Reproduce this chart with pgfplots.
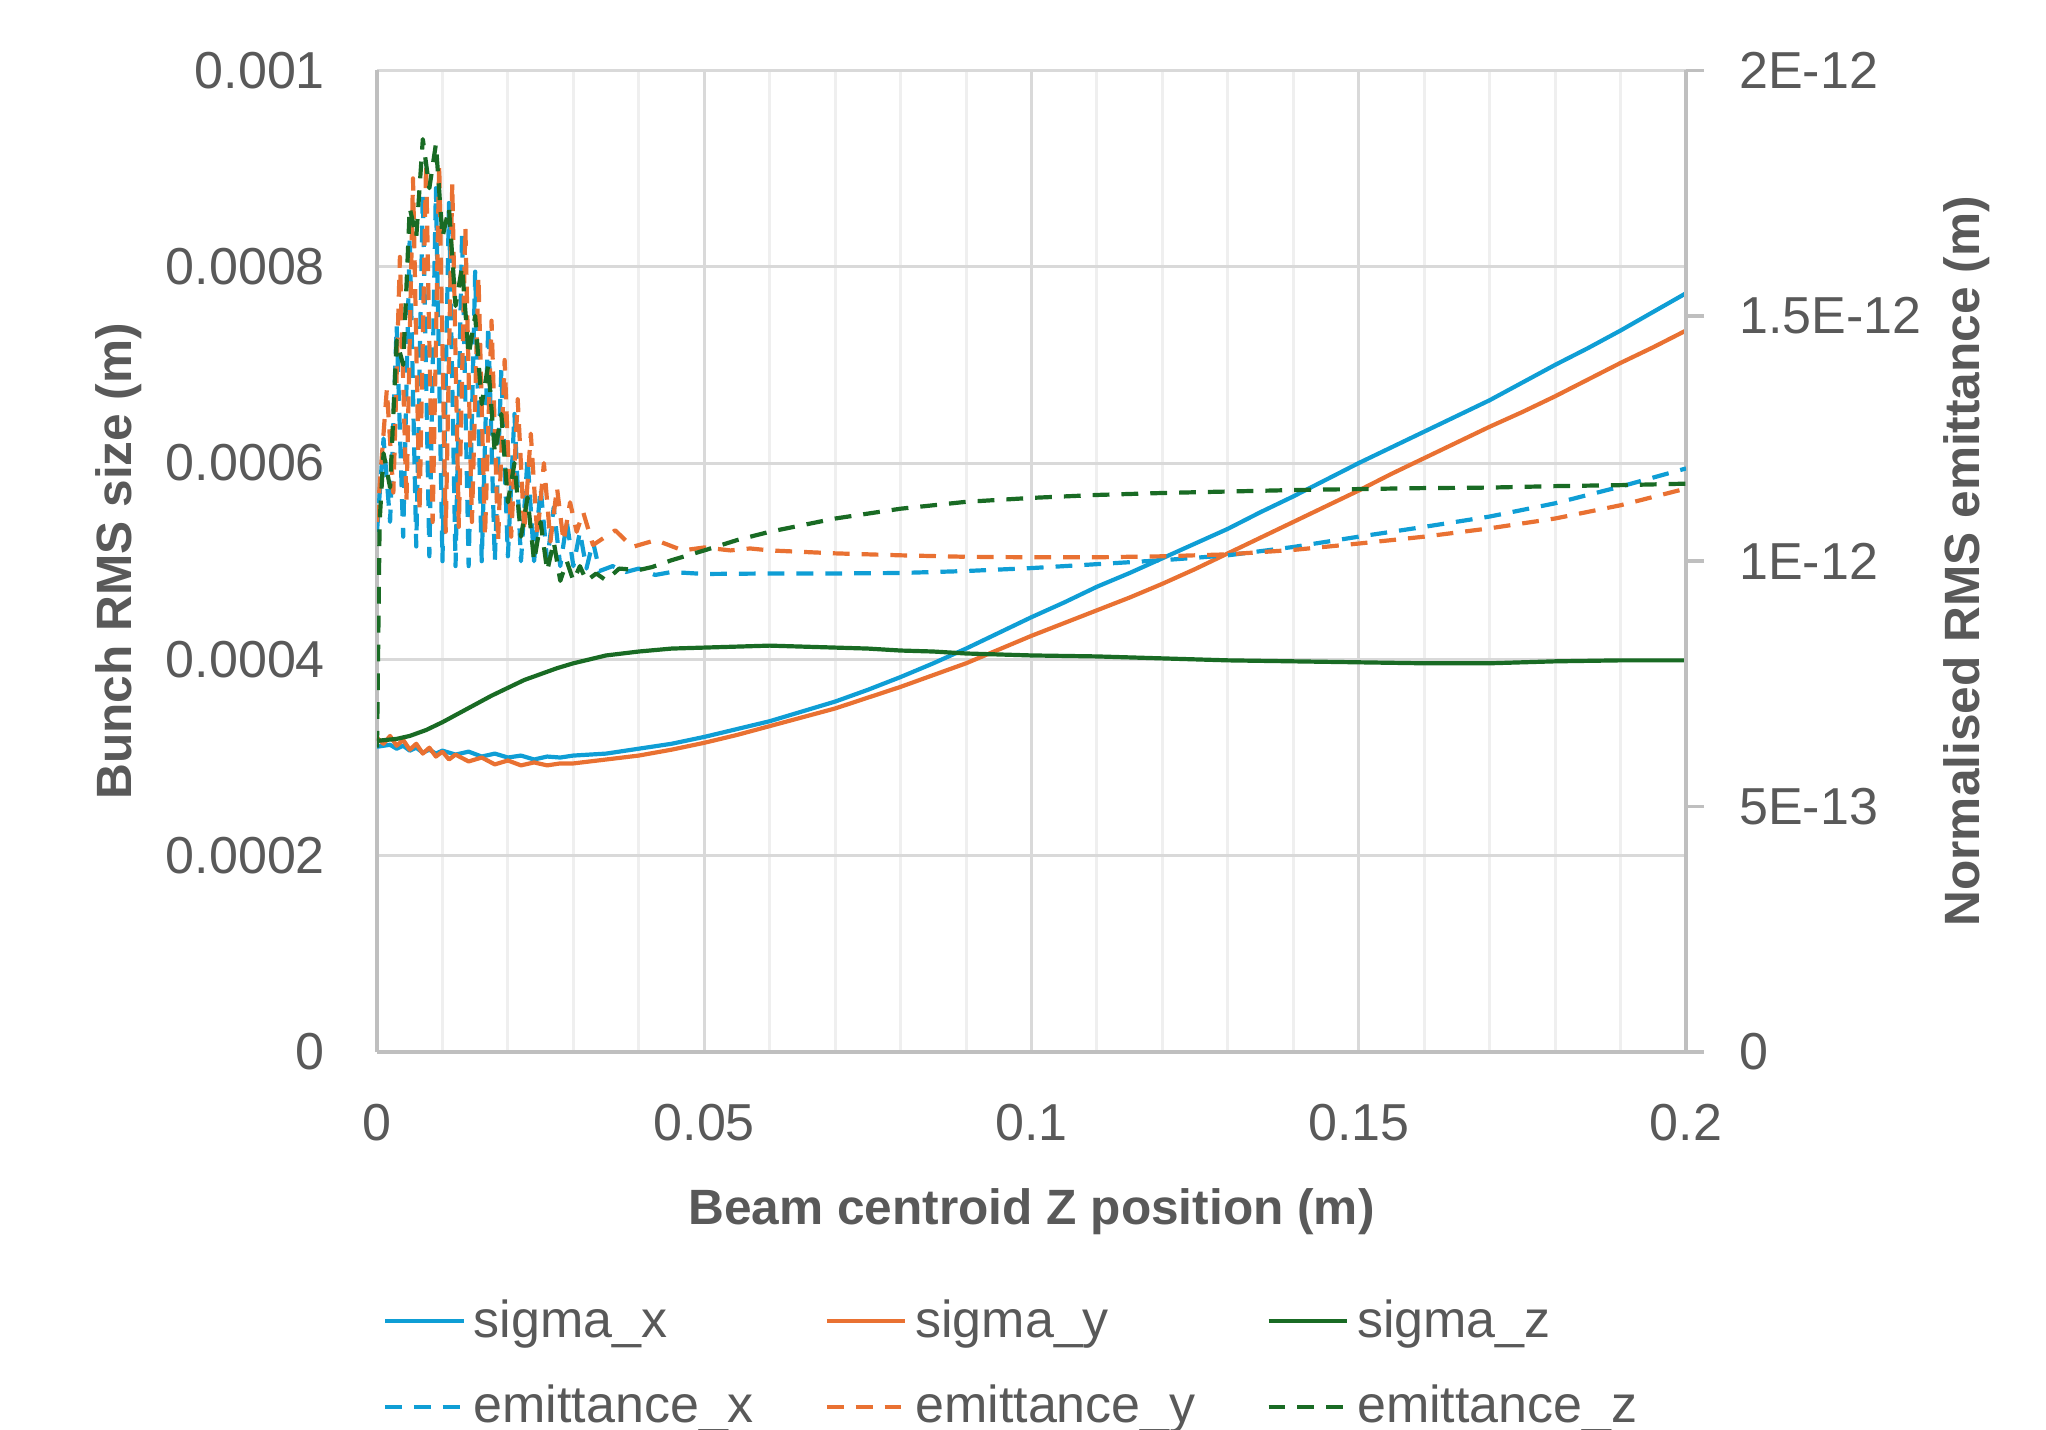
\documentclass[border=0pt]{standalone}
\usepackage{fontspec}
\setmainfont{Liberation Sans}
\usepackage{pgfplots}
\pgfplotsset{compat=1.18}

\definecolor{cx}{HTML}{0F9ED5}
\definecolor{cy}{HTML}{E97132}
\definecolor{cz}{HTML}{196B24}
\definecolor{gridmaj}{HTML}{D9D9D9}
\definecolor{gridmin}{HTML}{EFEFEF}
\definecolor{axisgray}{HTML}{BFBFBF}
\definecolor{textgray}{HTML}{595959}

\pgfplotsset{
  common/.style={
    at={(94.25pt,94.25pt)}, anchor=south west,
    width=327.25pt, height=245.4pt, scale only axis,
    xmin=0, xmax=0.2,
    scaled x ticks=false, scaled y ticks=false,
    tick label style={font=\fontsize{13}{15}\selectfont, text=textgray},
    label style={font=\bfseries\fontsize{12.4}{14}\selectfont, text=textgray},
    axis line style={-, draw=axisgray, line width=0.9pt},
  },
  solid line/.style={line width=1.05pt, line join=round},
  dash line/.style={line width=1.05pt, line join=round, dash pattern=on 4.2pt off 3pt},
}

\begin{document}
\begin{tikzpicture}
\useasboundingbox (0,0) rectangle (511.5pt,357.25pt);

% left axis: bunch sizes
\begin{axis}[common,
  ymin=0, ymax=0.001,
  axis x line*=bottom, axis y line*=left,
  xtick={0,0.05,0.1,0.15,0.2}, xticklabels={0,0.05,0.1,0.15,0.2},
  minor x tick num=4,
  ytick={0,0.0002,0.0004,0.0006,0.0008,0.001},
  yticklabels={0,0.0002,0.0004,0.0006,0.0008,0.001},
  major tick length=0pt, minor tick length=0pt,
  grid=both,
  major grid style={draw=gridmaj, line width=0.75pt},
  minor grid style={draw=gridmin, line width=0.75pt},
  xticklabel style={yshift=-9.5pt},
  yticklabel style={xshift=-9.5pt},
  xlabel={Beam centroid Z position (m)},
  ylabel={Bunch RMS size (m)},
  xlabel style={at={(rel axis cs:0.5,-0.163)}, anchor=center},
  ylabel style={at={(rel axis cs:-0.197,0.5)}, anchor=center},
]
% sigma_x
\addplot[cx, solid line] table {
0 0.000311
0.002 0.000313
0.003 0.000309
0.004 0.000312
0.005 0.000307
0.006 0.000310
0.007 0.000305
0.008 0.000308
0.009 0.000304
0.010 0.000307
0.012 0.000303
0.014 0.000306
0.016 0.000301
0.018 0.000304
0.020 0.000300
0.022 0.000302
0.024 0.000298
0.026 0.000301
0.028 0.000300
0.030 0.000302
0.035 0.000304
0.040 0.000309
0.045 0.000314
0.050 0.000321
0.055 0.000329
0.060 0.000337
0.065 0.000347
0.070 0.000357
0.075 0.000369
0.080 0.000382
0.085 0.000396
0.090 0.000411
0.095 0.000427
0.100 0.000443
0.105 0.000458
0.110 0.000474
0.115 0.000488
0.120 0.000503
0.125 0.000518
0.130 0.000533
0.135 0.000550
0.140 0.000566
0.145 0.000583
0.150 0.000600
0.155 0.000616
0.160 0.000632
0.165 0.000648
0.170 0.000664
0.175 0.000682
0.180 0.000700
0.185 0.000717
0.190 0.000735
0.195 0.000754
0.200 0.000773
};
% sigma_y
\addplot[cy, solid line] table {
0 0.000320
0.001 0.000314
0.002 0.000322
0.003 0.000312
0.004 0.000318
0.005 0.000308
0.006 0.000314
0.007 0.000304
0.008 0.000310
0.009 0.000301
0.010 0.000306
0.011 0.000298
0.012 0.000303
0.014 0.000296
0.016 0.000300
0.018 0.000293
0.020 0.000297
0.022 0.000292
0.024 0.000295
0.026 0.000292
0.028 0.000294
0.030 0.000294
0.035 0.000298
0.040 0.000302
0.045 0.000308
0.050 0.000315
0.055 0.000323
0.060 0.000332
0.065 0.000341
0.070 0.000350
0.075 0.000361
0.080 0.000372
0.085 0.000384
0.090 0.000396
0.095 0.000410
0.100 0.000424
0.105 0.000437
0.110 0.000450
0.115 0.000463
0.120 0.000477
0.125 0.000492
0.130 0.000508
0.135 0.000524
0.140 0.000540
0.145 0.000556
0.150 0.000572
0.155 0.000589
0.160 0.000605
0.165 0.000621
0.170 0.000637
0.175 0.000652
0.180 0.000668
0.185 0.000685
0.190 0.000702
0.195 0.000718
0.200 0.000735
};
% sigma_z
\addplot[cz, solid line] table {
0 0.000317
0.003 0.000319
0.005 0.000322
0.0075 0.000328
0.010 0.000336
0.0125 0.000345
0.015 0.000354
0.0175 0.000363
0.020 0.000371
0.0225 0.000379
0.025 0.000385
0.0275 0.000391
0.030 0.000396
0.035 0.000404
0.040 0.000408
0.045 0.000411
0.050 0.000412
0.055 0.000413
0.060 0.000414
0.065 0.000413
0.070 0.000412
0.075 0.000411
0.080 0.000409
0.085 0.000408
0.090 0.000406
0.095 0.000405
0.100 0.000404
0.110 0.000403
0.120 0.000401
0.130 0.000399
0.140 0.000398
0.150 0.000397
0.160 0.000396
0.170 0.000396
0.180 0.000398
0.190 0.000399
0.200 0.000399
};
\end{axis}

% right axis: normalised emittance, values in units of 1E-12 m
\begin{axis}[common,
  ymin=0, ymax=2,
  axis x line=none, axis y line*=right,
  ytick={0,0.5,1,1.5,2},
  yticklabels={0,5E-13,1E-12,1.5E-12,2E-12},
  tick align=outside, major tick length=4.5pt,
  ytick style={draw=axisgray, line width=0.9pt},
  yticklabel style={xshift=5.3pt},
  ylabel={Normalised RMS emittance (m)},
  ylabel style={at={(rel axis cs:1.2147,0.5)}, anchor=center},
  legend columns=3,
  legend cell align=left,
  legend style={at={(rel axis cs:0.004,-0.243)}, anchor=north west,
    draw=none, fill=none, inner sep=0pt, row sep=6.5pt,
    font=\fontsize{13}{15}\selectfont, text=textgray,
    /tikz/every even column/.append style={column sep=15.7pt}},
  legend image code/.code={\draw[#1] (0pt,0pt) -- (19.6pt,0pt);},
]
\addlegendimage{cx, solid line}
\addlegendentry{sigma\_x}
\addlegendimage{cy, solid line}
\addlegendentry{sigma\_y}
\addlegendimage{cz, solid line}
\addlegendentry{sigma\_z}
% emittance_x
\addplot[cx, dash line] table {
0 1.06
0.001 1.25
0.002 1.08
0.003 1.48
0.004 1.05
0.005 1.66
0.006 1.03
0.007 1.75
0.008 1.01
0.009 1.76
0.010 1.00
0.011 1.73
0.012 0.99
0.013 1.67
0.014 0.99
0.015 1.59
0.016 1.00
0.017 1.48
0.018 1.00
0.019 1.39
0.020 1.01
0.021 1.30
0.022 1.00
0.023 1.21
0.024 1.00
0.025 1.15
0.026 1.00
0.027 1.11
0.028 0.99
0.029 1.08
0.030 0.99
0.031 1.06
0.032 0.985
0.033 1.04
0.034 0.98
0.036 0.99
0.038 0.978
0.040 0.985
0.0425 0.972
0.045 0.978
0.050 0.974
0.060 0.975
0.070 0.975
0.080 0.976
0.090 0.980
0.100 0.986
0.110 0.994
0.120 1.002
0.130 1.012
0.140 1.029
0.150 1.050
0.160 1.070
0.170 1.091
0.180 1.118
0.190 1.152
0.200 1.189
};
\addlegendentry{emittance\_x}
% emittance_y
\addplot[cy, dash line] table {
0 1.08
0.0015 1.35
0.0025 1.14
0.0035 1.62
0.0045 1.12
0.0055 1.78
0.0065 1.10
0.0075 1.81
0.0085 1.08
0.0095 1.81
0.0105 1.06
0.0115 1.77
0.0125 1.07
0.0135 1.68
0.0145 1.08
0.0155 1.58
0.0165 1.05
0.0175 1.49
0.0185 1.04
0.0195 1.41
0.0205 1.05
0.0215 1.33
0.0225 1.06
0.0235 1.26
0.0245 1.05
0.0255 1.20
0.0265 1.04
0.0275 1.15
0.0285 1.04
0.0295 1.12
0.0305 1.06
0.0315 1.10
0.033 1.033
0.0364 1.063
0.039 1.029
0.0426 1.043
0.0467 1.022
0.050 1.028
0.054 1.022
0.057 1.026
0.060 1.022
0.070 1.016
0.080 1.012
0.090 1.009
0.100 1.008
0.110 1.008
0.120 1.010
0.130 1.014
0.140 1.023
0.150 1.036
0.160 1.050
0.170 1.067
0.180 1.087
0.190 1.114
0.200 1.148
};
\addlegendentry{emittance\_y}
% emittance_z
\addplot[cz, dash line] table {
0 0.62
0.0004 1.08
0.0010 1.22
0.0020 1.15
0.0030 1.45
0.0040 1.40
0.0050 1.72
0.0060 1.66
0.0070 1.86
0.0080 1.76
0.0090 1.85
0.0100 1.66
0.0110 1.72
0.0120 1.52
0.0130 1.60
0.0140 1.42
0.0150 1.50
0.0160 1.32
0.0170 1.40
0.0180 1.22
0.0190 1.30
0.0200 1.12
0.0210 1.20
0.0220 1.05
0.0230 1.13
0.0240 1.00
0.0250 1.08
0.0260 0.98
0.0270 1.04
0.0280 0.96
0.0290 1.00
0.0300 0.96
0.0310 0.99
0.0320 0.96
0.0335 0.975
0.0350 0.961
0.0370 0.985
0.0400 0.982
0.0420 0.988
0.0450 1.002
0.0500 1.022
0.0550 1.043
0.0600 1.060
0.0700 1.087
0.0800 1.107
0.0900 1.121
0.1000 1.129
0.1100 1.135
0.1200 1.139
0.1300 1.142
0.1400 1.145
0.1500 1.147
0.1600 1.149
0.1700 1.150
0.1800 1.153
0.1900 1.155
0.2000 1.158
};
\addlegendentry{emittance\_z}
\end{axis}
\end{tikzpicture}
\end{document}
